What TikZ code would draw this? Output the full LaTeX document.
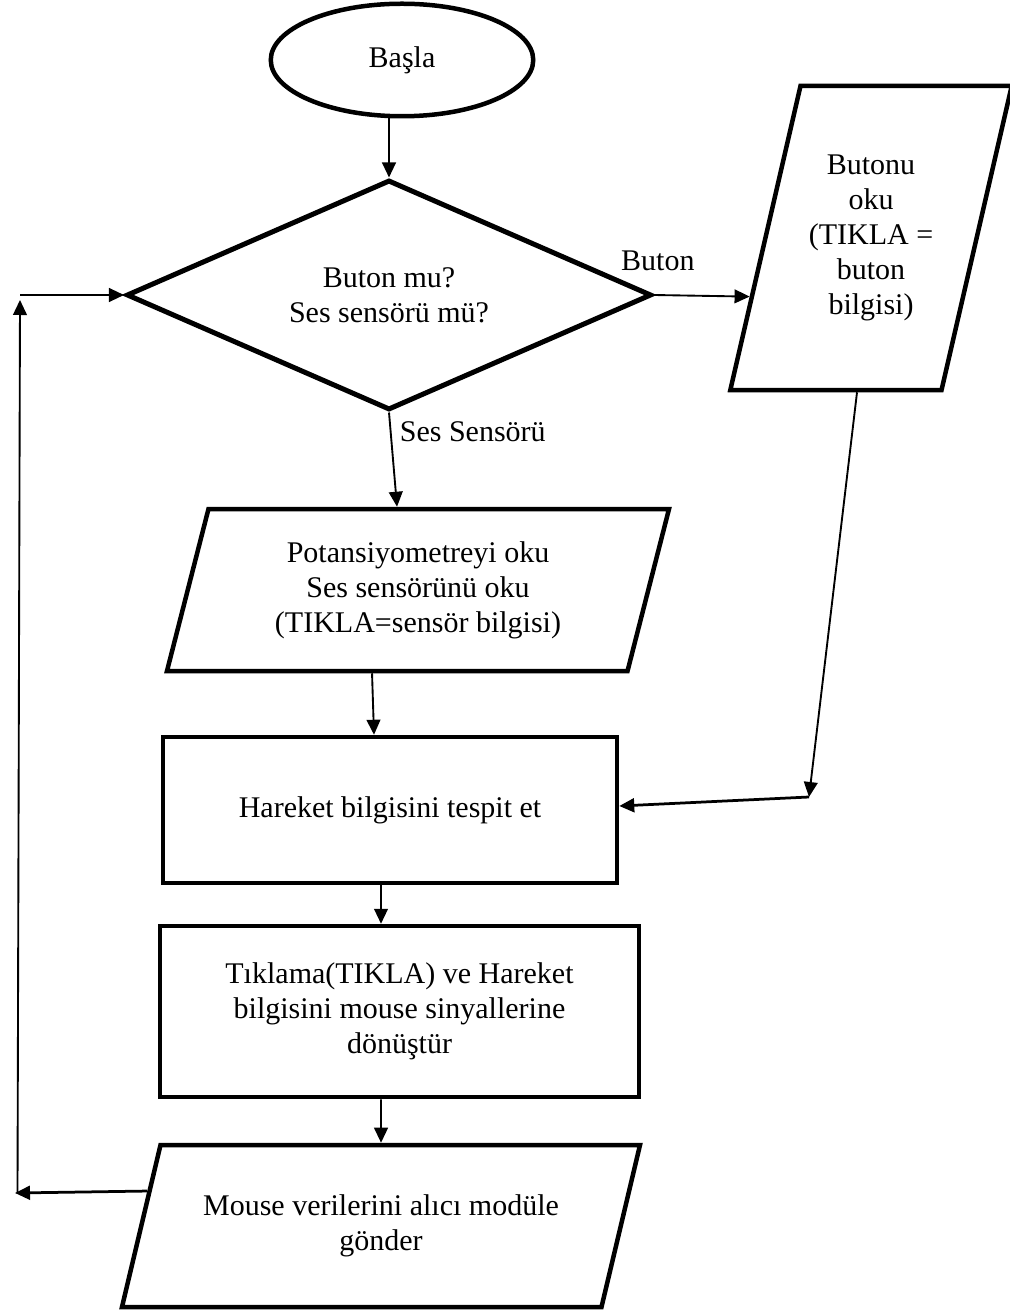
\documentclass[tikz,border=0pt]{standalone}
\usepackage{fontspec}
\setmainfont{Liberation Serif}
\usetikzlibrary{shapes.geometric}
\usetikzlibrary{arrows.meta, positioning, calc}

\begin{document}
\begin{tikzpicture}[x=0.4pt, y=-0.4pt,
        terminal/.style={ellipse, draw, line width=1.8pt, minimum width=105pt, minimum height=45pt},
        decision/.style={diamond, draw, line width=2pt, aspect=2.3, inner sep=0pt, minimum width=210pt, minimum height=92pt, align=center},
        io/.style={trapezium, draw, line width=1.8pt, trapezium stretches body, align=center},
        process/.style={rectangle, draw, line width=1.8pt, align=center},
        arrow/.style={-{Triangle[length=6pt, width=5.5pt]}, line width=0.75pt},
        every node/.style={font=\fontsize{12}{14}\selectfont}
    ]
        \useasboundingbox (0,0) rectangle (1010,1311);

        % Başlangıç
        \node[terminal] (basla) at (402,60) {Başla};

        % Karar
        \node[decision] (karar) at (389,295) {Buton mu?\\Ses sensörü mü?};

        % Buton okuma
        \node[io, trapezium left angle=69, trapezium right angle=111, minimum width=109.6pt, minimum height=121.6pt] (buton) at (871,238) {Butonu\\oku\\(TIKLA =\\buton\\bilgisi)};

        % Sensör okuma
        \node[io, trapezium left angle=70, trapezium right angle=110, minimum width=200.8pt, minimum height=64.8pt] (sensor) at (418,590) {Potansiyometreyi oku\\Ses sensörünü oku\\(TIKLA=sensör bilgisi)};

        % Hareket
        \node[process, minimum width=181.6pt, minimum height=58.4pt] (hareket) at (390,810) {Hareket bilgisini tespit et};

        % Dönüştürme
        \node[process, minimum width=191.6pt, minimum height=68.4pt] (donustur) at (399.5,1011.5) {Tıklama(TIKLA) ve Hareket\\bilgisini mouse sinyallerine\\dönüştür};

        % Gönderme
        \node[io, trapezium left angle=64, trapezium right angle=116, minimum width=207.2pt, minimum height=64.8pt] (gonder) at (381,1226) {Mouse verilerini alıcı modüle\\gönder};

        \draw[arrow] (karar.north |- basla.south) -- (karar.north);
        \draw[arrow] (karar.east) -- ($(buton.bottom left corner)!0.31!(buton.top left corner)$) node[pos=0.04, above, yshift=6pt] {Buton};
        \draw[arrow] (karar.south) -- ([xshift=-8.4pt]sensor.north) node[pos=0.2, right] {Ses Sensörü};
        \draw[arrow] ([xshift=-18.4pt]sensor.south) -- ([xshift=-6.4pt]hareket.north);
        \coordinate (kose) at (809,797);
        \draw[arrow] ([xshift=-5.6pt]buton.south) -- (kose);
        \draw[arrow, line width=1.1pt] (kose) -- ([yshift=1.6pt]hareket.east);
        \draw[arrow] ([xshift=-3.6pt]hareket.south) -- ([xshift=-3.6pt]hareket.south |- donustur.north);
        \draw[arrow] ([xshift=-7.4pt]donustur.south) -- (gonder.north);

        % Geri dönüş
        \coordinate (altsol) at (15,1193);
        \coordinate (ustsol) at (20,295);
        \draw[arrow, line width=1.1pt] ($(gonder.bottom left corner)!0.71!(gonder.top left corner)$) -- (altsol);
        \draw[arrow] ([xshift=1pt]altsol) -- ([yshift=-2pt]ustsol);
        \draw[arrow] (ustsol) -- (karar.west);

    \end{tikzpicture}
\end{document}
